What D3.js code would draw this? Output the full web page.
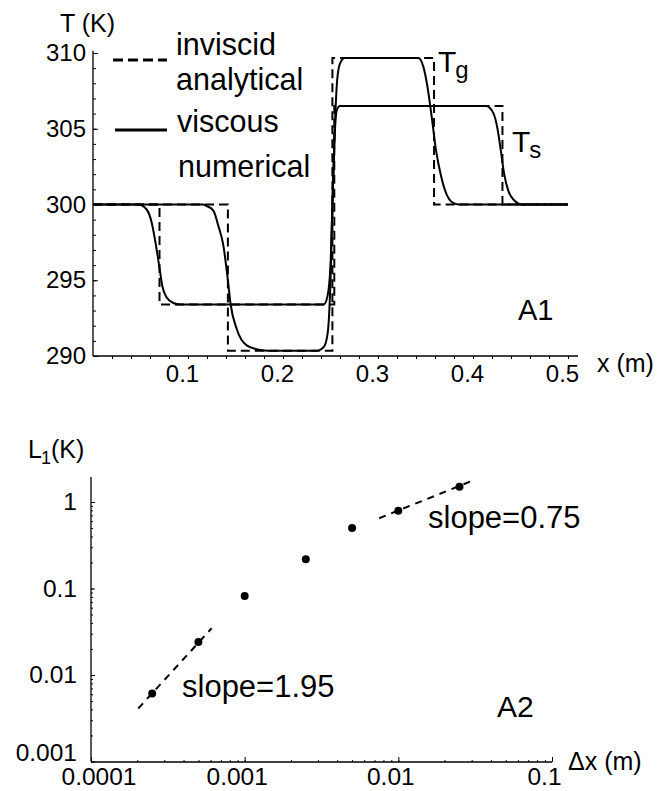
<!DOCTYPE html>
<html lang="en">
<head>
<meta charset="UTF-8">
<title>A1 / A2</title>
<script src="https://d3js.org/d3.v7.min.js"></script>
<style>
  body { margin: 0; background: #fff; }
  text { font-family: "Liberation Sans", Arial, Helvetica, sans-serif; fill: #000; }
</style>
</head>
<body>
<div id="my_graph"></div>
<script>
// ---- panel A1 : temperature profiles ----
var gasInviscid = [[0,300],[0.142,300],[0.142,290.35],[0.252,290.35],[0.252,309.67],[0.359,309.67],[0.359,300],[0.5,300]];
var solidInviscid = [[0,300],[0.070,300],[0.070,293.4],[0.254,293.4],[0.254,306.5],[0.431,306.5],[0.431,300],[0.5,300]];
var gasViscous = [[0,300],[0.116,300],[0.1197,299.9],[0.1267,299.6],[0.1319,298.6],[0.1372,297.3],[0.1418,295.1],
    [0.1449,293.4],[0.1512,291.8],[0.1618,290.7],[0.1758,290.4],[0.185,290.35],[0.236,290.35],[0.243,290.6],
    [0.247,291.5],[0.250,295],[0.252,300],[0.2545,305],[0.257,308.2],[0.260,309.3],[0.265,309.67],[0.3425,309.67],
    [0.3477,309.1],[0.352,307.8],[0.3565,305.8],[0.361,303.6],[0.3663,301.9],[0.372,300.7],[0.378,300.15],[0.385,300],[0.5,300]];
var solidViscous = [[0,300],[0.0477,300],[0.0565,299.67],[0.0618,298.8],[0.0663,297.3],[0.0698,295.9],[0.073,294.6],
    [0.0776,293.86],[0.0846,293.5],[0.0916,293.4],[0.243,293.4],[0.247,294.0],[0.250,296],[0.252,300],[0.254,304],
    [0.2565,306.2],[0.260,306.5],[0.414,306.5],[0.4214,306.03],[0.426,304.93],[0.4292,303.6],[0.4326,302.09],
    [0.4372,300.9],[0.443,300.3],[0.452,300],[0.5,300]];
var tTicks = [290, 295, 300, 305, 310];
var xTicks = [0.1, 0.2, 0.3, 0.4, 0.5];

// ---- panel A2 : L1 error vs grid spacing ----
var gridDx = [0.00025, 0.0005, 0.001, 0.0025, 0.005, 0.01, 0.025];
var errL1 = [0.0061, 0.024, 0.082, 0.218, 0.50, 0.79, 1.50];
var fitSteep = [[0.000203, 0.0041], [0.00061, 0.0347]];
var fitShallow = [[0.0075, 0.649], [0.030, 1.75]];
var dxTicks = [0.0001, 0.001, 0.01, 0.1];
var dxLabels = ["0.0001", "0.001", "0.01", "0.1"];
var l1Ticks = [0.001, 0.01, 0.1, 1];
var l1Labels = ["0.001", "0.01", "0.1", "1"];

var svg = d3.select("#my_graph")
    .append("svg")
    .attr("width", 670)
    .attr("height", 791);

// small helper: text with a lowered subscript
function subText(x, y, size, main, sub, after, subSize) {
    var t = svg.append("text").attr("x", x).attr("y", y).attr("font-size", size);
    t.append("tspan").text(main);
    t.append("tspan").attr("font-size", subSize).attr("dx", -1).attr("dy", 6).text(sub);
    if (after) t.append("tspan").attr("dy", -6).text(after);
    return t;
}

// ================= A1 =================
var x1 = d3.scaleLinear().domain([0, 0.5]).range([93, 568]);
var y1 = d3.scaleLinear().domain([290, 310]).range([356, 53]);

var line1 = d3.line()
    .x(function(d) { return x1(d[0]); })
    .y(function(d) { return y1(d[1]); });
var smooth1 = d3.line()
    .curve(d3.curveMonotoneX)
    .x(function(d) { return x1(d[0]); })
    .y(function(d) { return y1(d[1]); });

[gasInviscid, solidInviscid].forEach(function(s) {
    svg.append("path").attr("d", line1(s))
        .attr("fill", "none").attr("stroke", "#000")
        .attr("stroke-width", 2).attr("stroke-dasharray", "9,5");
});
[gasViscous, solidViscous].forEach(function(s) {
    svg.append("path").attr("d", smooth1(s))
        .attr("fill", "none").attr("stroke", "#000")
        .attr("stroke-width", 2);
});

// y axis (ticks point inward)
var gy1 = svg.append("g").attr("transform", "translate(93,0)");
gy1.call(d3.axisLeft(y1).tickValues(d3.range(290, 311, 1)).tickSizeInner(-3).tickSizeOuter(0).tickFormat(""));
gy1.append("g").call(d3.axisLeft(y1).tickValues(tTicks).tickSizeInner(-5).tickSizeOuter(0).tickPadding(7).tickFormat(d3.format("d")));
gy1.selectAll(".domain").remove();
gy1.selectAll("text").attr("font-size", 24).attr("font-family", null).attr("fill", "#000");
gy1.selectAll("line").attr("stroke", "#000");
svg.append("line").attr("x1", 93).attr("x2", 93).attr("y1", y1(290)).attr("y2", y1(310.15))
    .attr("stroke", "#000").attr("stroke-width", 1.3);

// x axis (ticks point down)
var gx1 = svg.append("g").attr("transform", "translate(0,356)");
gx1.call(d3.axisBottom(x1).tickValues(d3.range(0.02, 0.51, 0.02)).tickSizeInner(3).tickSizeOuter(0).tickFormat(""));
gx1.append("g").call(d3.axisBottom(x1).tickValues(xTicks).tickSizeInner(3).tickSizeOuter(0).tickFormat(d3.format(".1f")));
gx1.selectAll(".domain").remove();
gx1.selectAll("text").attr("font-size", 24).attr("font-family", null).attr("fill", "#000")
    .attr("y", 26).attr("dy", 0).attr("dx", -6);
gx1.selectAll("line").attr("stroke", "#000");
svg.append("line").attr("x1", 93).attr("x2", 578).attr("y1", 356).attr("y2", 356)
    .attr("stroke", "#000").attr("stroke-width", 1.3);

// legend
svg.append("line").attr("x1", 113).attr("x2", 167).attr("y1", 60).attr("y2", 60)
    .attr("stroke", "#000").attr("stroke-width", 3).attr("stroke-dasharray", "10,5");
svg.append("line").attr("x1", 115).attr("x2", 167).attr("y1", 130).attr("y2", 130)
    .attr("stroke", "#000").attr("stroke-width", 3);
[["inviscid", 176, 55], ["analytical", 176, 90], ["viscous", 177, 132], ["numerical", 178, 177]].forEach(function(t) {
    svg.append("text").attr("x", t[1]).attr("y", t[2]).attr("font-size", 30.5).text(t[0]);
});

// labels
svg.append("text").attr("x", 60).attr("y", 32).attr("font-size", 25).text("T (K)");
svg.append("text").attr("x", 597).attr("y", 372).attr("font-size", 25).text("x (m)");
svg.append("text").attr("x", 518).attr("y", 320).attr("font-size", 29).text("A1");
subText(438, 72, 30, "T", "g", null, 24);
subText(512, 152, 30, "T", "s", null, 24);

// ================= A2 =================
var x2 = d3.scaleLog().domain([1e-4, 1e-1]).range([91, 552]);
var y2 = d3.scaleLog().domain([1e-3, 1]).range([761.5, 502]);

var line2 = d3.line()
    .x(function(d) { return x2(d[0]); })
    .y(function(d) { return y2(d[1]); });

[fitSteep, fitShallow].forEach(function(s) {
    svg.append("path").attr("d", line2(s))
        .attr("fill", "none").attr("stroke", "#000")
        .attr("stroke-width", 2).attr("stroke-dasharray", "7,6");
});

svg.selectAll("circle.pt")
    .data(gridDx)
    .enter()
    .append("circle")
    .attr("class", "pt")
    .attr("cx", function(d) { return x2(d); })
    .attr("cy", function(d, i) { return y2(errL1[i]); })
    .attr("r", 4)
    .style("fill", "#000");

// y axis
var gy2 = svg.append("g").attr("transform", "translate(91,0)");
gy2.call(d3.axisLeft(y2).tickValues(y2.ticks()).tickSizeInner(-2).tickSizeOuter(0).tickFormat(""));
gy2.append("g").call(d3.axisLeft(y2).tickValues(l1Ticks).tickSizeInner(-4).tickSizeOuter(0).tickPadding(14)
    .tickFormat(function(d, i) { return l1Labels[i]; }));
gy2.selectAll(".domain").remove();
gy2.selectAll("text").attr("font-size", 24.5).attr("font-family", null).attr("fill", "#000")
    .attr("dy", function(d) { return d === 0.001 ? "-0.05em" : "0.32em"; });
gy2.selectAll("line").attr("stroke", "#000");
svg.append("line").attr("x1", 91).attr("x2", 91).attr("y1", y2(1e-3)).attr("y2", y2(1.95))
    .attr("stroke", "#000").attr("stroke-width", 1.3);

// x axis
var gx2 = svg.append("g").attr("transform", "translate(0,762)");
gx2.call(d3.axisBottom(x2).tickValues(x2.ticks()).tickSizeInner(-2).tickSizeOuter(0).tickFormat(""));
gx2.append("g").call(d3.axisBottom(x2).tickValues(dxTicks).tickSizeInner(-5).tickSizeOuter(0)
    .tickFormat(function(d, i) { return dxLabels[i]; }));
gx2.selectAll(".domain").remove();
gx2.selectAll("text").attr("font-size", 24.5).attr("font-family", null).attr("fill", "#000")
    .attr("y", 23).attr("dy", 0)
    .attr("dx", function(d) { return d === 0.0001 ? 7.5 : -8; });
gx2.selectAll("line").attr("stroke", "#000");
svg.append("line").attr("x1", 91).attr("x2", 552).attr("y1", 762).attr("y2", 762)
    .attr("stroke", "#000").attr("stroke-width", 1.3);

// labels
subText(28, 458, 25, "L", "1", "(K)", 18);
svg.append("text").attr("x", 568).attr("y", 770).attr("font-size", 25).text("\u0394x (m)");
svg.append("text").attr("x", 428).attr("y", 528).attr("font-size", 31).text("slope=0.75");
svg.append("text").attr("x", 182).attr("y", 697).attr("font-size", 31).text("slope=1.95");
svg.append("text").attr("x", 497).attr("y", 717).attr("font-size", 30).text("A2");
</script>
</body>
</html>
